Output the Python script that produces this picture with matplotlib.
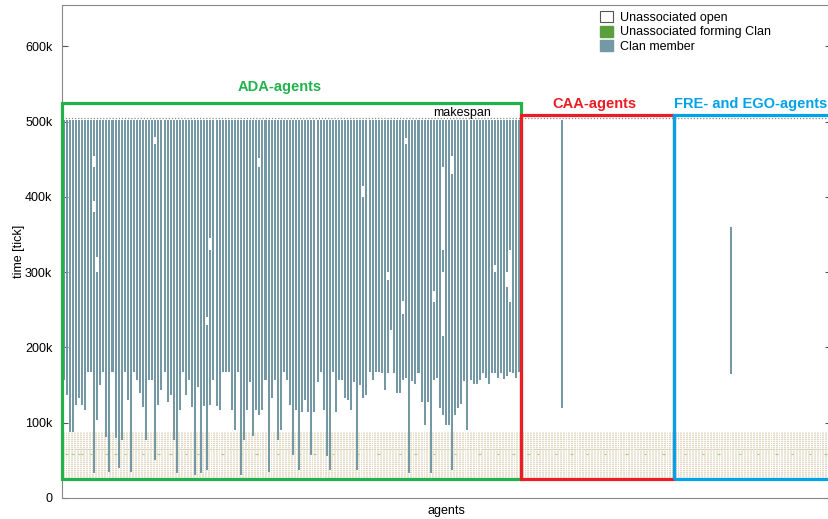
import numpy as np
import matplotlib
matplotlib.use("Agg")
import matplotlib.pyplot as plt
from matplotlib.patches import Rectangle, Patch
from matplotlib.ticker import FuncFormatter

plt.rcParams["font.family"] = ["Liberation Sans", "DejaVu Sans"]

# Agent groups (number of agents in each).
n_ada = 150
n_caa = 50
n_fre = 52

makespan = 505000
open_lo, open_hi = 28000, 88000

# Tick at which each ADA agent joined its clan (in k ticks), membership runs to the end.
ada_join = [157, 137, 88, 88, 124, 133, 124, 117, 167, 167, 33, 104, 150, 167, 81,
            35, 167, 80, 40, 77, 167, 130, 35, 167, 157, 140, 121, 77, 157, 157,
            50, 124, 143, 167, 127, 137, 77, 33, 117, 167, 137, 157, 121, 31, 147,
            33, 122, 37, 124, 157, 122, 117, 167, 167, 167, 117, 90, 167, 31, 77,
            117, 154, 82, 117, 110, 117, 157, 35, 133, 157, 77, 90, 167, 157, 124,
            57, 117, 37, 114, 130, 114, 57, 114, 154, 167, 117, 56, 37, 167, 114,
            157, 157, 133, 130, 117, 154, 37, 150, 133, 137, 167, 157, 167, 167, 166,
            143, 166, 223, 166, 140, 140, 157, 160, 33, 155, 152, 166, 127, 97, 127,
            33, 157, 160, 120, 110, 97, 97, 37, 110, 120, 125, 155, 90, 157, 152,
            152, 157, 166, 160, 152, 166, 166, 160, 166, 158, 162, 167, 166, 160, 167]
ada_end = 502

# Interruptions of clan membership: (agent, from k, to k)
ada_gaps = [(10, 440, 455), (10, 380, 395), (11, 300, 320), (30, 470, 480),
            (47, 230, 240), (48, 330, 345), (64, 440, 452), (98, 400, 415),
            (106, 290, 300), (111, 245, 262), (112, 470, 478), (121, 260, 275),
            (124, 330, 440), (124, 215, 300), (127, 430, 455), (141, 300, 310),
            (145, 280, 300), (146, 260, 330)]

# Single clan members outside the ADA group: (agent, start k, end k)
other_members = [(163, 120, 502), (218, 165, 360)]

# Agents showing the "forming Clan" marker in the open band
forming = [1, 3, 5, 6, 9, 14, 17, 20, 26, 31, 35, 40, 44, 52, 58, 63, 70, 77, 82,
           88, 96, 103, 110, 115, 121, 128, 136, 142, 147, 152, 155, 161, 166, 171,
           177, 184, 190, 196, 203, 209, 214, 221, 227, 233, 238, 244, 249]

n_total = n_ada + n_caa + n_fre
bar_color = "#7598a5"

fig = plt.figure(figsize=(8.29, 5.19), dpi=100)
ax = fig.add_axes([62 / 829, 21 / 519, 769 / 829, 493 / 519])

agents = np.arange(n_total)

# Unassociated-open band: hollow boxes for every agent
for off in (0.2, 0.8):
    ax.vlines(agents + off, open_lo, open_hi, color="#d9d0b5", lw=0.6,
              linestyles=(0, (1.5, 1.0)), zorder=1)
ax.hlines(np.full(n_total, 65000), agents + 0.1, agents + 0.9, color="#cdc3a2",
          lw=0.6, linestyles=(0, (2, 2)), zorder=1)
fa = np.array(forming)
ax.hlines(np.full(len(fa), 58000), fa + 0.1, fa + 0.9, color="#a3cc80", lw=0.8,
          zorder=1)

# Clan membership bars of the ADA agents, split at gaps
segs = []
for i, start in enumerate(ada_join):
    pieces = [(start, ada_end)]
    for a, g0, g1 in ada_gaps:
        if a != i:
            continue
        new = []
        for s0, s1 in pieces:
            if g1 <= s0 or g0 >= s1:
                new.append((s0, s1))
            else:
                if g0 > s0:
                    new.append((s0, g0))
                if g1 < s1:
                    new.append((g1, s1))
        pieces = new
    for s0, s1 in pieces:
        segs.append((i, s0, s1))
for a, s0, s1 in other_members:
    segs.append((a, s0, s1))

sx = np.array([s[0] for s in segs]) + 0.5
s0 = np.array([s[1] for s in segs]) * 1000.0
s1 = np.array([s[2] for s in segs]) * 1000.0
ax.bar(sx, s1 - s0, bottom=s0, width=0.66, color=bar_color, lw=0, zorder=2)

# Makespan line
ax.axhline(makespan, color="#888888", lw=0.9, ls=(0, (1, 1.5)), zorder=3)
ax.text(140.3, makespan - 1500, "makespan", ha="right", va="bottom", fontsize=9,
        zorder=4)

# Group boxes
groups = [("ADA-agents", 0, n_ada, 525000, "#22b14c"),
          ("CAA-agents", n_ada, n_ada + n_caa, 509000, "#ed1c24"),
          ("FRE- and EGO-agents", n_ada + n_caa, n_total + 0.5, 509000, "#00a2e8")]
for name, g0, g1, top, col in groups:
    ax.add_patch(Rectangle((g0 + 0.15, 25000), g1 - g0 - 0.3, top - 25000,
                           fill=False, ec=col, lw=2.3, zorder=5, clip_on=False))
ax.text(71.2, 546000, "ADA-agents", color="#22b14c", fontsize=10.5,
        fontweight="bold", ha="center", va="center")
ax.text(173.9, 523000, "CAA-agents", color="#ed1c24", fontsize=10.5,
        fontweight="bold", ha="center", va="center")
ax.text(250.2, 523000, "FRE- and EGO-agents", color="#00a2e8", fontsize=10.5,
        fontweight="bold", ha="right", va="center")

ax.set_xlim(0, 251.3)
ax.set_ylim(0, 655000)
ax.set_xticks([])
ax.set_yticks(np.arange(0, 600001, 100000))
ax.yaxis.set_major_formatter(FuncFormatter(lambda v, p: "0" if v == 0 else f"{int(v / 1000)}k"))
ax.tick_params(axis="y", direction="in", length=4, color="#555555", labelsize=9,
               right=True, pad=7)
for sp in ax.spines.values():
    sp.set_color("#888888")
    sp.set_linewidth(0.8)

ax.set_xlabel("agents", fontsize=9, labelpad=5)
ax.set_ylabel("time [tick]", fontsize=9, labelpad=0)

handles = [Patch(fc="white", ec="#555555", lw=0.8, label="Unassociated open"),
           Patch(fc="#5b9e3c", ec="#5b9e3c", label="Unassociated forming Clan"),
           Patch(fc=bar_color, ec=bar_color, label="Clan member")]
ax.legend(handles=handles, loc="upper left", bbox_to_anchor=(532 / 769, 1.0),
          frameon=False, fontsize=9, handlelength=1.0, handleheight=1.0,
          handletextpad=0.6, labelspacing=0.12, borderaxespad=0.1)

fig.savefig("out.png", dpi=100)
